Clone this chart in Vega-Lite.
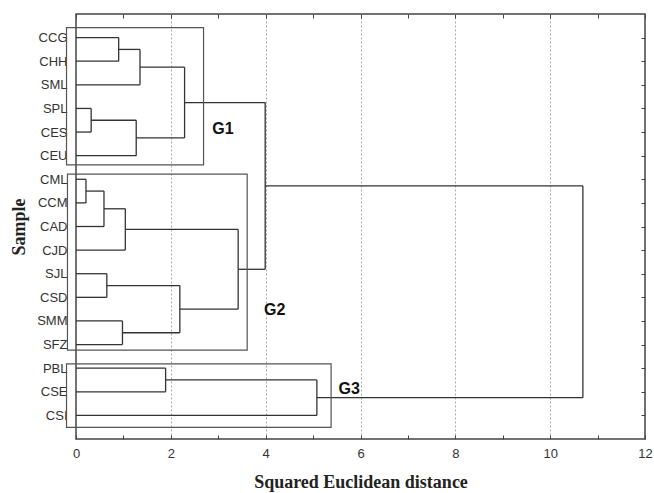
{
  "$schema": "https://vega.github.io/schema/vega-lite/v6.json",
  "width": 569,
  "height": 425,
  "autosize": "none",
  "padding": {"left": 76, "top": 14, "right": 9, "bottom": 54},
  "background": "white",
  "config": {
    "view": {"stroke": "#444", "strokeWidth": 1.5},
    "axis": {
      "domain": false,
      "labelFont": "Liberation Sans",
      "labelFontSize": 13,
      "labelColor": "#333",
      "titleFont": "Liberation Serif",
      "titleFontSize": 18,
      "titleFontWeight": "bold",
      "titleColor": "#222",
      "tickColor": "#444"
    }
  },
  "datasets": {
    "segments": [
      {"x": 0, "x2": 0.9, "y": 1, "y2": 1},
      {"x": 0, "x2": 0.9, "y": 2, "y2": 2},
      {"x": 0.9, "x2": 0.9, "y": 1, "y2": 2},
      {"x": 0.9, "x2": 1.35, "y": 1.5, "y2": 1.5},
      {"x": 0, "x2": 1.35, "y": 3, "y2": 3},
      {"x": 1.35, "x2": 1.35, "y": 1.5, "y2": 3},
      {"x": 0, "x2": 0.32, "y": 4, "y2": 4},
      {"x": 0, "x2": 0.32, "y": 5, "y2": 5},
      {"x": 0.32, "x2": 0.32, "y": 4, "y2": 5},
      {"x": 0.32, "x2": 1.27, "y": 4.5, "y2": 4.5},
      {"x": 0, "x2": 1.27, "y": 6, "y2": 6},
      {"x": 1.27, "x2": 1.27, "y": 4.5, "y2": 6},
      {"x": 1.35, "x2": 2.29, "y": 2.25, "y2": 2.25},
      {"x": 1.27, "x2": 2.29, "y": 5.25, "y2": 5.25},
      {"x": 2.29, "x2": 2.29, "y": 2.25, "y2": 5.25},
      {"x": 0, "x2": 0.21, "y": 7, "y2": 7},
      {"x": 0, "x2": 0.21, "y": 8, "y2": 8},
      {"x": 0.21, "x2": 0.21, "y": 7, "y2": 8},
      {"x": 0.21, "x2": 0.59, "y": 7.5, "y2": 7.5},
      {"x": 0, "x2": 0.59, "y": 9, "y2": 9},
      {"x": 0.59, "x2": 0.59, "y": 7.5, "y2": 9},
      {"x": 0.59, "x2": 1.04, "y": 8.25, "y2": 8.25},
      {"x": 0, "x2": 1.04, "y": 10, "y2": 10},
      {"x": 1.04, "x2": 1.04, "y": 8.25, "y2": 10},
      {"x": 0, "x2": 0.65, "y": 11, "y2": 11},
      {"x": 0, "x2": 0.65, "y": 12, "y2": 12},
      {"x": 0.65, "x2": 0.65, "y": 11, "y2": 12},
      {"x": 0, "x2": 0.98, "y": 13, "y2": 13},
      {"x": 0, "x2": 0.98, "y": 14, "y2": 14},
      {"x": 0.98, "x2": 0.98, "y": 13, "y2": 14},
      {"x": 0.65, "x2": 2.19, "y": 11.5, "y2": 11.5},
      {"x": 0.98, "x2": 2.19, "y": 13.5, "y2": 13.5},
      {"x": 2.19, "x2": 2.19, "y": 11.5, "y2": 13.5},
      {"x": 1.04, "x2": 3.42, "y": 9.125, "y2": 9.125},
      {"x": 2.19, "x2": 3.42, "y": 12.5, "y2": 12.5},
      {"x": 3.42, "x2": 3.42, "y": 9.125, "y2": 12.5},
      {"x": 2.29, "x2": 3.99, "y": 3.75, "y2": 3.75},
      {"x": 3.42, "x2": 3.99, "y": 10.8125, "y2": 10.8125},
      {"x": 3.99, "x2": 3.99, "y": 3.75, "y2": 10.8125},
      {"x": 0, "x2": 1.89, "y": 15, "y2": 15},
      {"x": 0, "x2": 1.89, "y": 16, "y2": 16},
      {"x": 1.89, "x2": 1.89, "y": 15, "y2": 16},
      {"x": 1.89, "x2": 5.08, "y": 15.5, "y2": 15.5},
      {"x": 0, "x2": 5.08, "y": 17, "y2": 17},
      {"x": 5.08, "x2": 5.08, "y": 15.5, "y2": 17},
      {"x": 3.99, "x2": 10.69, "y": 7.28, "y2": 7.28},
      {"x": 5.08, "x2": 10.69, "y": 16.25, "y2": 16.25},
      {"x": 10.69, "x2": 10.69, "y": 7.28, "y2": 16.25}
    ],
    "boxes": [
      {"group": "G1", "x": -0.2, "x2": 2.69, "y": 0.58, "y2": 6.39},
      {"group": "G2", "x": -0.18, "x2": 3.61, "y": 6.78, "y2": 14.24},
      {"group": "G3", "x": -0.2, "x2": 5.38, "y": 14.82, "y2": 17.51}
    ],
    "labels": [
      {"text": "G1", "x": 3.1, "y": 4.85},
      {"text": "G2", "x": 4.19, "y": 12.54},
      {"text": "G3", "x": 5.76, "y": 15.9}
    ]
  },
  "layer": [
    {
      "data": {"name": "segments"},
      "mark": {"type": "rule", "color": "#333", "strokeWidth": 1.3},
      "encoding": {
        "x": {
          "field": "x", "type": "quantitative",
          "scale": {"domain": [0, 12], "nice": false, "zero": false},
          "axis": {
            "orient": "bottom",
            "title": "Squared Euclidean distance",
            "values": [0, 1, 2, 3, 4, 5, 6, 7, 8, 9, 10, 11, 12],
            "labelExpr": "datum.value % 2 === 0 ? datum.label : ''",
            "tickSize": -4,
            "labelPadding": 12,
            "labelFlush": false,
            "labelOverlap": false,
            "grid": true,
            "gridDash": [2, 2],
            "gridColor": "#aaa",
            "gridOpacity": {"condition": {"test": "datum.value % 2 === 1 || datum.value === 0 || datum.value === 12", "value": 0}, "value": 1},
            "titlePadding": 13
          }
        },
        "x2": {"field": "x2"},
        "y": {
          "field": "y", "type": "quantitative",
          "scale": {"domain": [0, 18], "reverse": true, "nice": false, "zero": false},
          "axis": {
            "orient": "left",
            "title": "Sample",
            "values": [1, 2, 3, 4, 5, 6, 7, 8, 9, 10, 11, 12, 13, 14, 15, 16, 17],
            "labelExpr": "['', 'CCG', 'CHH', 'SML', 'SPL', 'CES', 'CEU', 'CML', 'CCM', 'CAD', 'CJD', 'SJL', 'CSD', 'SMM', 'SFZ', 'PBL', 'CSE', 'CSI'][datum.value]",
            "ticks": false,
            "labelPadding": 9,
            "labelOverlap": false,
            "grid": false,
            "titlePadding": 8
          }
        },
        "y2": {"field": "y2"}
      }
    },
    {
      "data": {"name": "boxes"},
      "mark": {"type": "rect", "fill": null, "fillOpacity": 0, "stroke": "#555", "strokeWidth": 1.2},
      "encoding": {
        "x": {
          "field": "x", "type": "quantitative",
          "axis": {
            "orient": "top",
            "title": null,
            "values": [0, 1, 2, 3, 4, 5, 6, 7, 8, 9, 10, 11, 12],
            "labels": false,
            "tickSize": -4,
            "grid": false
          }
        },
        "x2": {"field": "x2"},
        "y": {
          "field": "y", "type": "quantitative",
          "axis": {
            "orient": "right",
            "title": null,
            "values": [1, 2, 3, 4, 5, 6, 7, 8, 9, 10, 11, 12, 13, 14, 15, 16, 17],
            "labels": false,
            "tickSize": -4,
            "grid": false
          }
        },
        "y2": {"field": "y2"}
      }
    },
    {
      "data": {"name": "labels"},
      "mark": {"type": "text", "font": "Liberation Sans", "fontSize": 16, "fontWeight": "bold", "color": "#111", "align": "center", "baseline": "middle"},
      "encoding": {
        "x": {"field": "x", "type": "quantitative", "axis": null},
        "y": {"field": "y", "type": "quantitative", "axis": null},
        "text": {"field": "text"}
      }
    }
  ],
  "resolve": {"axis": {"x": "independent", "y": "independent"}}
}
